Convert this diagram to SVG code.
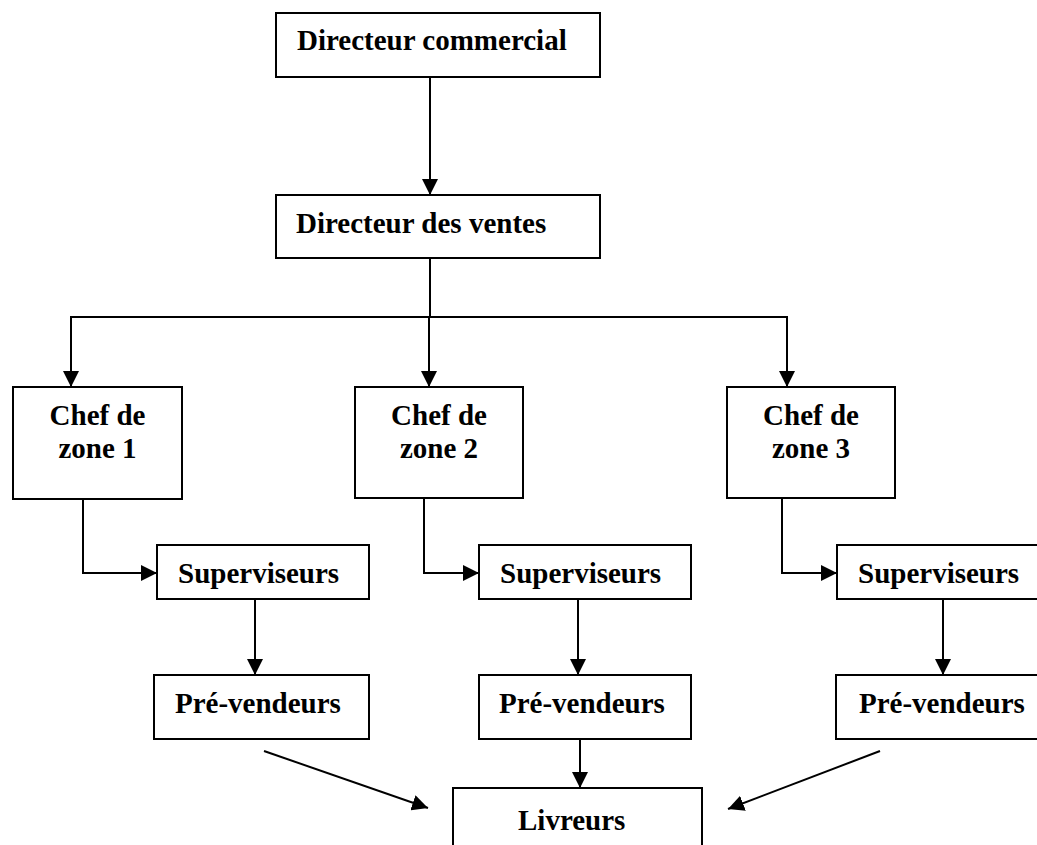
<svg xmlns="http://www.w3.org/2000/svg" width="1037" height="845" viewBox="0 0 1037 845">
<style>
.box{fill:#fff;stroke:#000;stroke-width:2}
.lbl{font-family:"Liberation Serif","Times New Roman",serif;font-weight:bold;font-size:29px;fill:#000}
.c{text-anchor:middle}
.con{fill:none;stroke:#000;stroke-width:2}
</style>
<defs>
<marker id="ah" markerUnits="userSpaceOnUse" markerWidth="16" markerHeight="16" viewBox="0 0 15 15" refX="15" refY="7.5" orient="auto">
<path d="M0,0 L15,7.5 L0,15 z" fill="#000"/>
</marker>
</defs>
<rect width="1037" height="845" fill="#fff"/>
<g id="connectors">
<line class="con" x1="430" y1="77" x2="430" y2="195" marker-end="url(#ah)"/>
<line class="con" x1="430" y1="258" x2="430" y2="317"/>
<line class="con" x1="70" y1="317" x2="788" y2="317"/>
<line class="con" x1="71" y1="317" x2="71" y2="387" marker-end="url(#ah)"/>
<line class="con" x1="429" y1="317" x2="429" y2="387" marker-end="url(#ah)"/>
<line class="con" x1="787" y1="317" x2="787" y2="387" marker-end="url(#ah)"/>
<polyline class="con" points="83,499 83,573 157,573" marker-end="url(#ah)"/>
<polyline class="con" points="424,498 424,573 479,573" marker-end="url(#ah)"/>
<polyline class="con" points="782,498 782,573 837,573" marker-end="url(#ah)"/>
<line class="con" x1="255" y1="599" x2="255" y2="675" marker-end="url(#ah)"/>
<line class="con" x1="578" y1="599" x2="578" y2="675" marker-end="url(#ah)"/>
<line class="con" x1="943" y1="599" x2="943" y2="675" marker-end="url(#ah)"/>
<line class="con" x1="580" y1="739" x2="580" y2="788" marker-end="url(#ah)"/>
<line class="con" x1="264" y1="751" x2="428" y2="808" marker-end="url(#ah)"/>
<line class="con" x1="880" y1="751" x2="728" y2="809" marker-end="url(#ah)"/>
</g>
<g id="directeur-commercial">
<rect class="box" x="276" y="13" width="324" height="64"/>
<text class="lbl" x="297" y="50">Directeur commercial</text>
</g>
<g id="directeur-ventes">
<rect class="box" x="276" y="195" width="324" height="63"/>
<text class="lbl" x="296" y="233">Directeur des ventes</text>
</g>
<g id="chef-zone-1">
<rect class="box" x="13" y="387" width="169" height="112"/>
<text class="lbl c" x="97.5" y="425">Chef de</text>
<text class="lbl c" x="97.5" y="458">zone 1</text>
</g>
<g id="chef-zone-2">
<rect class="box" x="355" y="387" width="168" height="111"/>
<text class="lbl c" x="439" y="425">Chef de</text>
<text class="lbl c" x="439" y="458">zone 2</text>
</g>
<g id="chef-zone-3">
<rect class="box" x="727" y="387" width="168" height="111"/>
<text class="lbl c" x="811" y="425">Chef de</text>
<text class="lbl c" x="811" y="458">zone 3</text>
</g>
<g id="superviseurs-1">
<rect class="box" x="157" y="545" width="212" height="54"/>
<text class="lbl" x="178" y="583">Superviseurs</text>
</g>
<g id="superviseurs-2">
<rect class="box" x="479" y="545" width="212" height="54"/>
<text class="lbl" x="500" y="583">Superviseurs</text>
</g>
<g id="superviseurs-3">
<rect class="box" x="837" y="545" width="212" height="54"/>
<text class="lbl" x="858" y="583">Superviseurs</text>
</g>
<g id="pre-vendeurs-1">
<rect class="box" x="154" y="675" width="215" height="64"/>
<text class="lbl" x="175" y="713">Pré-vendeurs</text>
</g>
<g id="pre-vendeurs-2">
<rect class="box" x="479" y="675" width="212" height="64"/>
<text class="lbl" x="499" y="713">Pré-vendeurs</text>
</g>
<g id="pre-vendeurs-3">
<rect class="box" x="836" y="675" width="212" height="64"/>
<text class="lbl" x="859" y="713">Pré-vendeurs</text>
</g>
<g id="livreurs">
<rect class="box" x="453" y="788" width="249" height="70"/>
<text class="lbl" x="518" y="830">Livreurs</text>
</g>
</svg>
